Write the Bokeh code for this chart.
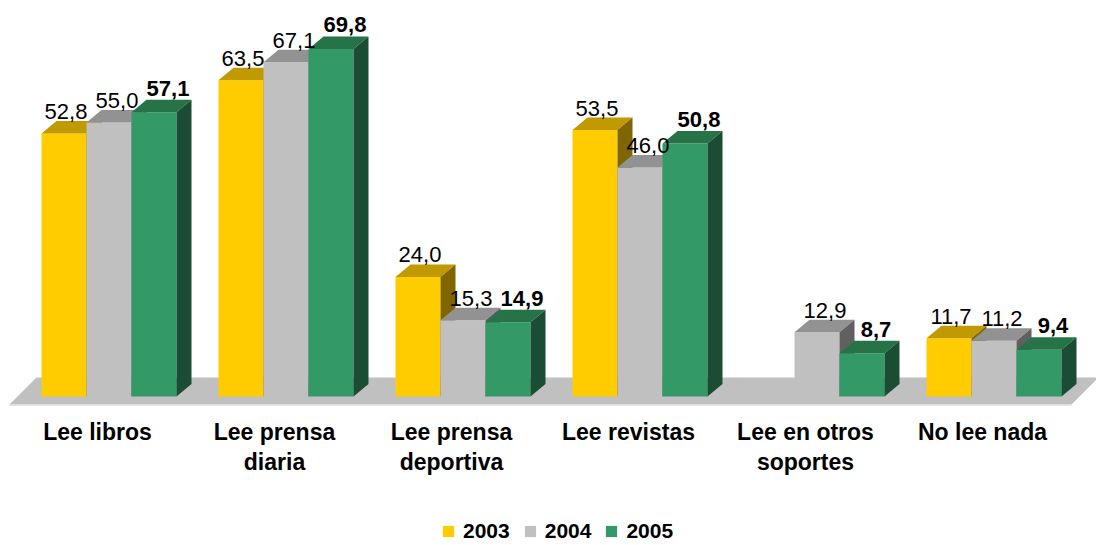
from bokeh.plotting import figure
from bokeh.models import ColumnDataSource, Range1d, Legend, LegendItem
from bokeh.core.properties import value
from bokeh.embed import file_html
from bokeh.resources import INLINE

# ---- data ----
categories = ["Lee libros", "Lee prensa\ndiaria", "Lee prensa\ndeportiva",
              "Lee revistas", "Lee en otros\nsoportes", "No lee nada"]
years = ["2003", "2004", "2005"]
v2003 = [52.8, 63.5, 24.0, 53.5, None, 11.7]
v2004 = [55.0, 67.1, 15.3, 46.0, 12.9, 11.2]
v2005 = [57.1, 69.8, 14.9, 50.8, 8.7, 9.4]

# ---- style ----
FONT_NAME = "Liberation Sans"
FONT = value(FONT_NAME)
front_colors = ["#FFCC00", "#C0C0C0", "#339966"]
top_colors = ["#C09A00", "#929292", "#267348"]
side_colors = ["#806600", "#606060", "#1B4D34"]
label_styles = ["normal", "normal", "bold"]
label_dx = [2, 8, 14]
label_dy = [-22, -22, -24]

W, H = 1096, 545
PX_X = 177.0          # px per category
PX_Y = 4.98           # px per value unit
X0 = 108.5            # canvas px of category 0 centre
Y0 = 396.0            # canvas px of value 0
BW = 45.0 / PX_X      # bar width in category units
DX = 15.0 / PX_X      # depth offset x
DY = 12.5 / PX_Y      # depth offset y

p = figure(width=W, height=H, output_backend="svg", toolbar_location=None,
           x_range=Range1d(-X0 / PX_X, (W - X0) / PX_X),
           y_range=Range1d((Y0 - H) / PX_Y, Y0 / PX_Y),
           min_border=0, outline_line_color=None)
p.axis.visible = False
p.grid.visible = False
p.background_fill_color = "white"
p.border_fill_color = "white"

# floor
n = len(categories)
fl, fr = -0.5 - 11.0 / PX_X, n - 0.5 - 11.0 / PX_X
fdx = 27.0 / PX_X
fy0, fy1 = -8.0 / PX_Y, 19.0 / PX_Y
p.patch([fl, fr, fr + fdx, fl + fdx], [fy0, fy0, fy1, fy1],
        fill_color="#C0C0C0", line_color=None)
p.line([fl, fr], [fy0 - 0.6 / PX_Y, fy0 - 0.6 / PX_Y], line_color="#DCDCDC", line_width=1.5)

series = [v2003, v2004, v2005]
front_renderers = []
for j, vals in enumerate(series):
    off = (j - 1) * BW
    xs, tops = [], []
    top_x, top_y, side_x, side_y = [], [], [], []
    for i, v in enumerate(vals):
        if v is None:
            continue
        xc = i + off
        x0, x1 = xc - BW / 2, xc + BW / 2
        xs.append(xc)
        tops.append(v)
        top_x.append([x0, x0 + DX, x1 + DX, x1])
        top_y.append([v, v + DY, v + DY, v])
        side_x.append([x1, x1, x1 + DX, x1 + DX])
        side_y.append([0, v, v + DY, DY])
    src = ColumnDataSource(dict(x=xs, top=tops))
    r = p.vbar(x="x", top="top", bottom=0, width=BW, source=src,
               fill_color=front_colors[j], line_color=None)
    front_renderers.append(r)
    p.patches(top_x, top_y, fill_color=top_colors[j], line_color=None)
    p.patches(side_x, side_y, fill_color=side_colors[j], line_color=None)

# value labels
for j, vals in enumerate(series):
    off = (j - 1) * BW
    xs = [i + off for i, v in enumerate(vals) if v is not None]
    ys = [v for v in vals if v is not None]
    txt = [f"{v:.1f}".replace(".", ",") for v in ys]
    p.text(x=xs, y=ys, text=txt, x_offset=label_dx[j], y_offset=label_dy[j],
           text_align="center", text_baseline="alphabetic",
           text_font=FONT, text_font_size="22px", text_font_style=label_styles[j],
           text_color="black")

# category labels
p.text(x=list(range(n)), y=[0] * n, text=categories, x_offset=-11.5, y_offset=22,
       text_align="center", text_baseline="top", text_line_height=1.17,
       text_font=FONT, text_font_size="23px", text_font_style="bold",
       text_color="black")

legend = Legend(items=[LegendItem(label=years[j], renderers=[front_renderers[j]])
                       for j in range(3)],
                location=(441, 2), orientation="horizontal",
                glyph_width=14, glyph_height=14, label_height=14, label_standoff=8,
                spacing=13, padding=0, margin=0,
                label_text_font=FONT_NAME, label_text_font_size="21px",
                label_text_font_style="bold", label_text_color="black",
                border_line_color=None, background_fill_alpha=0)
p.add_layout(legend)

open("out.html", "w").write(file_html(p, INLINE))
